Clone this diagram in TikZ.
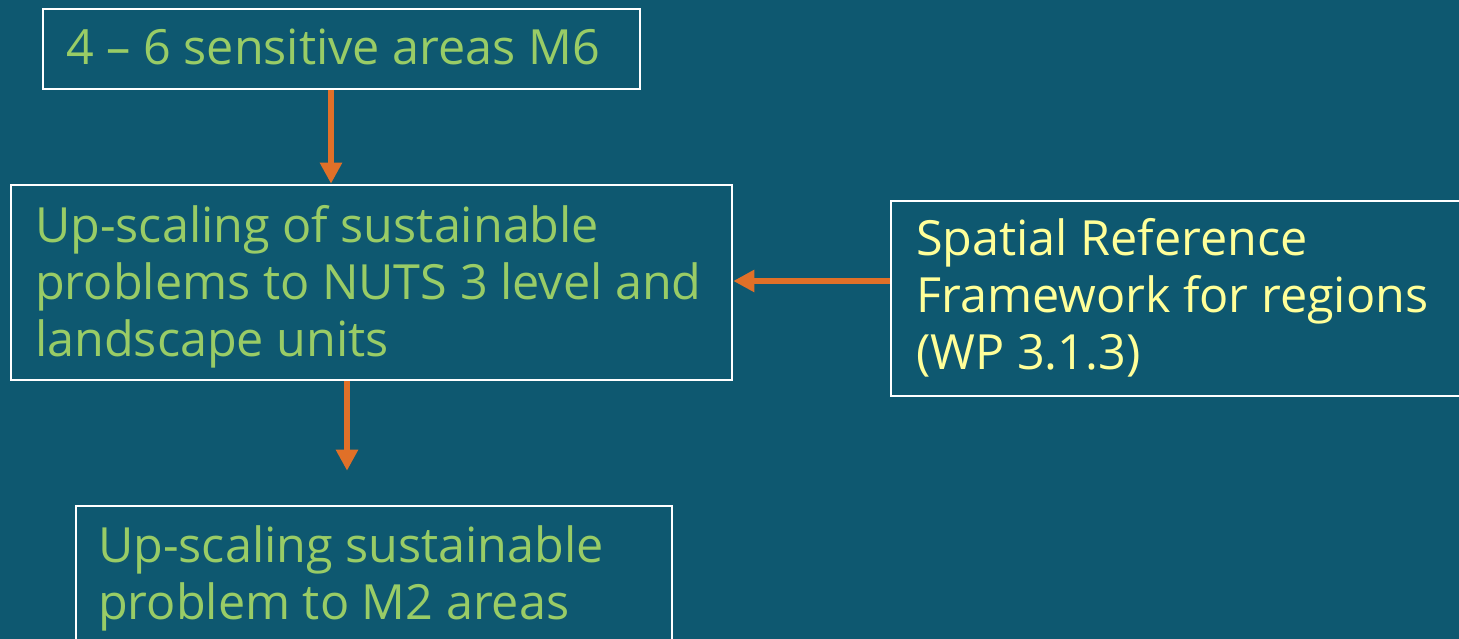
\documentclass[tikz,border=0pt]{standalone}
\usepackage{fontspec}
\setmainfont{Open Sans}
\usetikzlibrary{arrows.meta}
\definecolor{bgc}{RGB}{14,88,112}
\definecolor{txtg}{RGB}{153,204,102}
\definecolor{txty}{RGB}{255,255,153}
\definecolor{arrc}{RGB}{224,112,40}
\tikzset{
  box/.style={draw=white, line width=2.5pt, rectangle, inner sep=0pt},
  lbl/.style={anchor=base west, inner sep=0pt, align=left, font=\fontsize{48.5}{57}\selectfont},
  arr/.style={draw=arrc, line width=5.5pt, -{Triangle[width=21pt,length=21pt]}},
}
\begin{document}
\begin{tikzpicture}[x=1pt,y=1pt]
\fill[bgc] (0,0) rectangle (1459,639);
\useasboundingbox (0,0) rectangle (1459,639);
\clip (0,0) rectangle (1459,639);
\node[box, minimum width=597pt, minimum height=80pt] (b1) at (341.5,590) {};
\node[box, minimum width=721pt, minimum height=195pt] (b2) at (371.5,356.5) {};
\node[box, minimum width=579pt, minimum height=195pt] (b3) at (1180.5,340.5) {};
\node[box, minimum width=596pt, minimum height=160pt] (b4) at (374,53) {};
\node[lbl, text=txtg] (t1) at (66,574) {4 – 6 sensitive areas M6};
\node[lbl, text=txtg] (t2) at (35,282) {Up-scaling of sustainable\\problems to NUTS 3 level and\\landscape units};
\node[lbl, text=txty] (t3) at (916,269) {Spatial Reference\\Framework for regions\\(WP 3.1.3)};
\node[lbl, text=txtg] (t4) at (98,19) {Up-scaling sustainable\\problem to M2 areas};
\coordinate (c1) at (331,0);
\coordinate (c2) at (347,0);
\coordinate (c3) at (0,358);
\draw[arr] (b1.south -| c1) -- (b2.north -| c1);
\draw[arr, shorten >=34pt] (b2.south -| c2) -- (b4.north -| c2);
\draw[arr] (b3.west |- c3) -- (b2.east |- c3);
\end{tikzpicture}
\end{document}
